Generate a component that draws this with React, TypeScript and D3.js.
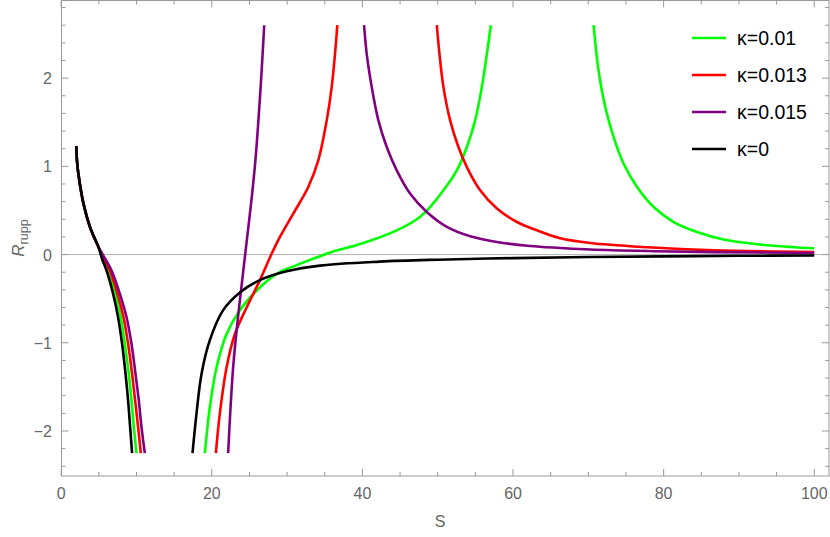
import * as d3 from "d3";

type Pt = [number, number];

// shared start of the first branch (all κ overlap here)
const head: Pt[] = [
  [2, 1.23], [2.1, 1.06], [2.29, 0.91], [2.95, 0.58], [3.83, 0.31], [4.95, 0.085],
];

const black1: Pt[] = [...head, [5.43, -0.05], [6.01, -0.178], [6.89, -0.442], [7.55, -0.707], [8.08, -1.008], [8.54, -1.348], [8.88, -1.65], [9.15, -1.952], [9.41, -2.25]];
const green1: Pt[] = [...head, [5.55, -0.05], [6.22, -0.178], [7.2, -0.442], [7.91, -0.707], [8.44, -1.008], [8.97, -1.348], [9.33, -1.65], [9.64, -1.952], [10.0, -2.25]];
const red1: Pt[] = [...head, [5.7, -0.05], [6.45, -0.178], [7.47, -0.442], [8.27, -0.707], [8.88, -1.008], [9.41, -1.348], [9.81, -1.65], [10.21, -1.952], [10.57, -2.25]];
const purple1: Pt[] = [...head, [5.85, -0.05], [6.67, -0.178], [7.78, -0.442], [8.67, -0.707], [9.33, -1.008], [9.86, -1.348], [10.3, -1.65], [10.66, -1.952], [11.1, -2.25]];

const black2: Pt[] = [
  [17.44, -2.25], [17.97, -1.8], [18.64, -1.35], [19.74, -0.97], [21.51, -0.63], [23.73, -0.43],
  [26.39, -0.29], [29.94, -0.19], [34.37, -0.125], [42.3, -0.08], [50, -0.058], [60, -0.04],
  [70, -0.028], [80, -0.02], [90, -0.014], [100, -0.01],
];

const green2: Pt[] = [
  [19.08, -2.25], [19.74, -1.73], [20.63, -1.28], [21.96, -0.9], [23.73, -0.63], [25.95, -0.41],
  [28.61, -0.22], [31.27, -0.12], [34, -0.03], [35.7, 0.023], [40.12, 0.131], [44.56, 0.275],
  [47.22, 0.4], [48.99, 0.539], [50.76, 0.728], [52.54, 0.955], [53.87, 1.219], [54.97, 1.521],
  [55.86, 1.898], [56.53, 2.276], [57.06, 2.6],
];
const green3: Pt[] = [
  [70.7, 2.6], [71.36, 2.087], [72.25, 1.672], [73.36, 1.332], [74.69, 1.03], [76.47, 0.766],
  [78.68, 0.539], [81.34, 0.369], [84.45, 0.256], [87.98, 0.17], [92.42, 0.117], [96.85, 0.086],
  [100, 0.071],
];

const red2: Pt[] = [
  [20.54, -2.25], [21.07, -1.8], [21.96, -1.28], [23.07, -0.9], [24.62, -0.6], [26.39, -0.29],
  [27.9, 0], [29.05, 0.2], [30.82, 0.464], [32.81, 0.766], [34.14, 1.068], [35.26, 1.521],
  [35.92, 1.898], [36.36, 2.276], [36.67, 2.6],
];
const red3: Pt[] = [
  [49.88, 2.6], [50.23, 2.276], [50.76, 1.898], [51.65, 1.521], [52.75, 1.219], [53.87, 0.992],
  [55.64, 0.728], [57.86, 0.521], [60.52, 0.369], [63.17, 0.275], [66.27, 0.185], [70.26, 0.131],
  [77.8, 0.083], [86.65, 0.048], [100, 0.029],
];

const purple2: Pt[] = [
  [22.17, -2.25], [22.47, -1.76], [22.84, -1.27], [23.27, -0.88], [23.73, -0.52], [24.4, -0.02],
  [25.26, 0.615], [25.79, 1.068], [26.19, 1.521], [26.62, 2.087], [26.96, 2.6],
];
const purple3: Pt[] = [
  [40.22, 2.6], [40.57, 2.276], [41.24, 1.898], [42.12, 1.521], [43.23, 1.219], [44.56, 0.955],
  [46.33, 0.691], [48.55, 0.482], [51.21, 0.313], [54.31, 0.207], [57.86, 0.143], [62.28, 0.097],
  [66.27, 0.075], [70.26, 0.057], [77.8, 0.04], [86.65, 0.028], [100, 0.018],
];

const series = [
  { label: "κ=0.01", color: "#00ff00", branches: [green1, green2, green3] },
  { label: "κ=0.013", color: "#ff0000", branches: [red1, red2, red3] },
  { label: "κ=0.015", color: "#800080", branches: [purple1, purple2, purple3] },
  { label: "κ=0", color: "#000000", branches: [black1, black2] },
];

const xMajor = [0, 20, 40, 60, 80, 100];
const yMajor = [-2, -1, 0, 1, 2];

const font = "'Liberation Sans', Arial, sans-serif";

export default function App() {
  const width = 830;
  const height = 537;
  const x = d3.scaleLinear().domain([0.04, 101.96]).range([61.5, 829]);
  const y = d3.scaleLinear().domain([-2.51, 2.88]).range([476, 0.5]);
  const line = d3
    .line<Pt>()
    .x((d) => x(d[0]))
    .y((d) => y(d[1]))
    .curve(d3.curveCatmullRom.alpha(0.5));

  const [x0, x1] = x.range();
  const [y0, y1] = y.range();
  const xMinor = d3.range(0, 101, 5).filter((v) => v % 20 !== 0);
  const yMinor = d3.range(-2.4, 2.81, 0.2).filter((v) => Math.abs(v - Math.round(v)) > 0.01);
  const tickColor = "#999";

  return (
    <svg
      width={width}
      height={height}
      style={{ position: "absolute", left: 0, top: 0, background: "#fff" }}
    >
      <defs>
        <clipPath id="plot">
          <rect x={x0} y={y1} width={x1 - x0} height={y0 - y1} />
        </clipPath>
      </defs>

      {/* zero axis */}
      <line x1={x0} x2={x1} y1={y(0)} y2={y(0)} stroke="#b3b3b3" strokeWidth={1} />

      <g clipPath="url(#plot)" fill="none" strokeWidth={2.6} strokeLinejoin="round">
        {series.map((s) =>
          s.branches.map((b, i) => <path key={s.label + i} d={line(b) ?? ""} stroke={s.color} />)
        )}
      </g>

      {/* frame */}
      <rect x={x0} y={y1} width={x1 - x0} height={y0 - y1} fill="none" stroke={tickColor} strokeWidth={1} />

      <g stroke={tickColor} strokeWidth={1}>
        {xMajor.map((v) => (
          <g key={"xm" + v}>
            <line x1={x(v)} x2={x(v)} y1={y0} y2={y0 - 7} />
            <line x1={x(v)} x2={x(v)} y1={y1} y2={y1 + 7} />
          </g>
        ))}
        {xMinor.map((v) => (
          <g key={"xn" + v}>
            <line x1={x(v)} x2={x(v)} y1={y0} y2={y0 - 4} />
            <line x1={x(v)} x2={x(v)} y1={y1} y2={y1 + 4} />
          </g>
        ))}
        {yMajor.map((v) => (
          <g key={"ym" + v}>
            <line x1={x0} x2={x0 + 7} y1={y(v)} y2={y(v)} />
            <line x1={x1} x2={x1 - 7} y1={y(v)} y2={y(v)} />
          </g>
        ))}
        {yMinor.map((v) => (
          <g key={"yn" + v.toFixed(1)}>
            <line x1={x0} x2={x0 + 4} y1={y(v)} y2={y(v)} />
            <line x1={x1} x2={x1 - 4} y1={y(v)} y2={y(v)} />
          </g>
        ))}
      </g>

      <g fontFamily={font} fontSize={16} fill="#666">
        {xMajor.map((v) => (
          <text key={"xl" + v} x={x(v)} y={499} textAnchor="middle">
            {v}
          </text>
        ))}
        {yMajor.map((v) => (
          <text key={"yl" + v} x={52} y={y(v) + 6} textAnchor="end">
            {v < 0 ? "\u2212" + Math.abs(v) : v}
          </text>
        ))}
        <text x={440} y={527} textAnchor="middle">S</text>
        <text transform="translate(24,238) rotate(-90)" textAnchor="middle" fontSize={17}>
          <tspan fontStyle="italic">R</tspan>
          <tspan fontSize={12.5} dy={4}>rupp</tspan>
        </text>
      </g>

      <g fontFamily={font} fontSize={19.5}>
        {series.map((s, i) => {
          const ly = 38 + i * 37;
          return (
            <g key={"lg" + s.label}>
              <line x1={692} x2={726} y1={ly} y2={ly} stroke={s.color} strokeWidth={2.6} />
              <text x={737} y={ly + 7} fill="#000">
                {s.label}
              </text>
            </g>
          );
        })}
      </g>
    </svg>
  );
}
